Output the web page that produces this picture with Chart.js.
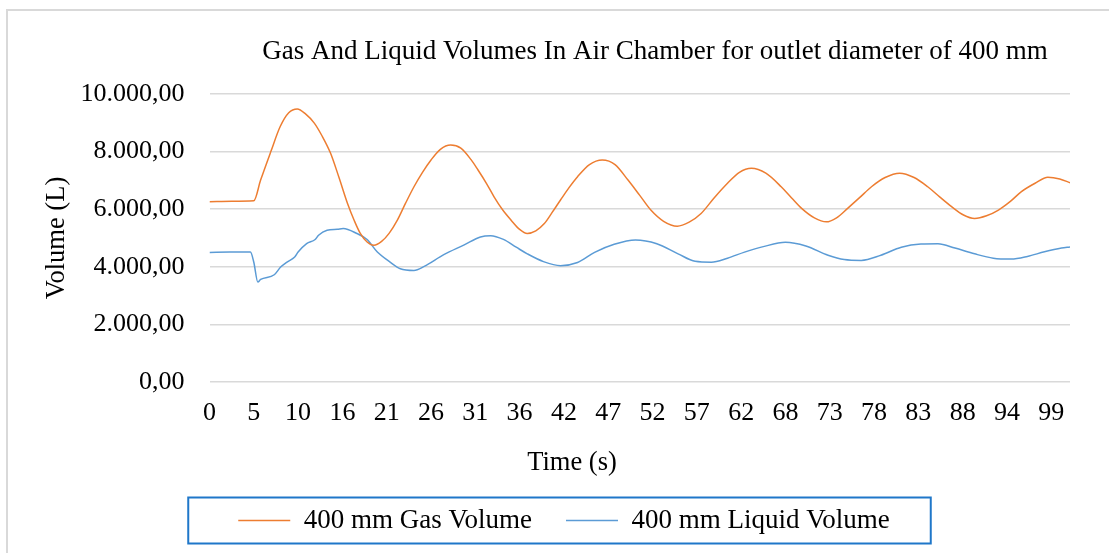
<!DOCTYPE html>
<html>
<head>
    <title>Gas And Liquid Volumes</title>
    <script src="https://cdn.jsdelivr.net/npm/chart.js"></script>
    <style>
        body {
            margin: 0;
            padding: 0;
            background: white;
        }
        .wrap {
            width: 1109px;
            height: 553px;
            position: relative;
        }
    </style>
</head>
<body>
    <div class="wrap">
        <canvas id="volumeChart"></canvas>
    </div>

    <script>
        const chartTitle = 'Gas And Liquid Volumes In Air Chamber for outlet diameter of 400 mm';
        const xTitle = 'Time (s)';
        const yTitle = 'Volume (L)';

        // x axis label positions (s) and the text shown under them
        const tickTimes = [0, 5.2, 10.4, 15.6, 20.8, 26, 31.2, 36.4, 41.6, 46.8, 52, 57.2, 62.4, 67.6, 72.8, 78, 83.2, 88.4, 93.6, 98.8];
        const tickLabels = ['0', '5', '10', '16', '21', '26', '31', '36', '42', '47', '52', '57', '62', '68', '73', '78', '83', '88', '94', '99'];

        // gas volume (L)
        const gasTime = [0, 2.6, 5.2, 6.0, 7.2, 8.3, 9.3, 10.3, 11.3, 12.3, 13.2, 14.2, 15.2, 16.2, 17.0, 17.7, 18.5, 19.3,
            20.2, 21.1, 22.05, 23.0, 24.0, 25.0, 26.0, 27.1, 28.3, 29.5, 30.7, 31.5, 32.5, 33.4, 34.4, 35.4, 36.4, 37.3,
            38.3, 39.3, 40.2, 41.2, 42.2, 43.2, 44.6, 46.1, 47.6, 49.1, 50.5, 51.8, 53.3, 54.9, 56.3, 57.7, 59.2, 60.8,
            62.2, 63.6, 65.3, 67.1, 68.3, 69.5, 71.0, 72.4, 73.6, 74.9, 76.3, 77.7, 79.3, 81.0, 82.7, 84.3, 85.7, 87.1,
            88.5, 89.8, 91.2, 92.6, 94.0, 95.3, 96.9, 98.4, 99.8, 101.0];
        const gasVolume = [6260, 6275, 6290, 7010, 8000, 8870, 9350, 9480, 9300, 8990, 8550, 7950, 7100, 6200, 5600, 5160, 4860, 4745,
            4880, 5170, 5620, 6200, 6780, 7280, 7710, 8080, 8230, 8120, 7720, 7370, 6900, 6430, 5980, 5620, 5300, 5160,
            5250, 5500, 5880, 6320, 6750, 7130, 7550, 7710, 7550, 7020, 6480, 5970, 5580, 5410, 5550, 5850, 6380, 6900,
            7280, 7420, 7250, 6780, 6400, 6030, 5700, 5560, 5700, 6030, 6400, 6780, 7100, 7250, 7100, 6780, 6430, 6090,
            5800, 5680, 5770, 5970, 6270, 6610, 6900, 7110, 7050, 6920];

        // liquid volume (L)
        const liquidTime = [0, 2.4, 4.8, 5.2, 5.67, 6.0, 7.6, 8.35, 9.1, 10.0, 10.4, 11.4, 12.4, 12.8, 13.8, 15.0, 15.7, 17.3,
            18.5, 19.7, 21.2, 22.4, 24.0, 25.2, 27.5, 29.9, 31.8, 33.0, 34.5, 36.0, 37.3, 39.2, 41.2, 43.2, 45.2, 47.5,
            50.0, 52.5, 55.0, 57.0, 58.9, 60.8, 62.8, 65.0, 67.6, 70.0, 72.6, 74.5, 76.5, 78.8, 81.2, 83.5, 85.5, 87.5,
            89.8, 92.0, 94.1, 96.0, 98.0, 100.0, 101.0];
        const liquidVolume = [4500, 4510, 4513, 4160, 3470, 3560, 3725, 3990, 4165, 4340, 4513, 4806, 4946, 5096, 5271, 5305, 5329, 5155,
            4946, 4513, 4164, 3933, 3874, 4014, 4420, 4760, 5037, 5080, 4950, 4680, 4450, 4180, 4040, 4150, 4500, 4780,
            4930, 4800, 4450, 4190, 4160, 4300, 4510, 4700, 4850, 4720, 4400, 4250, 4220, 4400, 4680, 4790, 4800, 4650,
            4450, 4300, 4270, 4360, 4520, 4650, 4690];

        const serif = '"Liberation Serif", "Times New Roman", serif';

        function formatVolume(v) {
            const parts = Math.round(v).toString().replace(/\B(?=(\d{3})+(?!\d))/g, '.');
            return parts + ',00';
        }

        function toPoints(times, values) {
            return times.map((t, i) => ({ x: t, y: values[i] }));
        }

        // outer frame, titles and the box round the legend
        const frameText = {
            id: 'frameText',
            beforeDraw(chart) {
                const ctx = chart.ctx;
                ctx.save();
                ctx.strokeStyle = '#d9d9d9';
                ctx.lineWidth = 2;
                ctx.beginPath();
                ctx.moveTo(7, chart.height);
                ctx.lineTo(7, 10);
                ctx.lineTo(chart.width, 10);
                ctx.stroke();
                ctx.restore();
            },
            afterDraw(chart) {
                const { ctx, chartArea } = chart;
                ctx.save();
                ctx.fillStyle = '#000';
                ctx.textAlign = 'center';
                ctx.textBaseline = 'middle';
                ctx.font = '27px ' + serif;
                ctx.fillText(chartTitle, 655, 52);
                ctx.font = '26.5px ' + serif;
                ctx.fillText(xTitle, 572, 463);
                ctx.translate(57, (chartArea.top + chartArea.bottom) / 2);
                ctx.rotate(-Math.PI / 2);
                ctx.fillText(yTitle, 0, 0);
                ctx.restore();

                const boxes = chart.legend.legendHitBoxes;
                if (boxes && boxes.length) {
                    const first = boxes[0];
                    const last = boxes[boxes.length - 1];
                    const cy = first.top + first.height / 2;
                    ctx.save();
                    ctx.strokeStyle = '#1f77c9';
                    ctx.lineWidth = 2;
                    ctx.strokeRect(first.left - 50, cy - 23, last.left + last.width + 41 - (first.left - 50), 46);
                    ctx.restore();
                }
            }
        };

        const ctx = document.getElementById('volumeChart').getContext('2d');
        new Chart(ctx, {
            type: 'line',
            data: {
                datasets: [{
                    label: '400 mm Gas Volume',
                    data: toPoints(gasTime, gasVolume),
                    borderColor: '#ED7D31',
                    backgroundColor: '#ED7D31',
                    borderWidth: 1.5,
                    pointRadius: 0,
                    cubicInterpolationMode: 'monotone',
                    fill: false
                }, {
                    label: '400 mm Liquid Volume',
                    data: toPoints(liquidTime, liquidVolume),
                    borderColor: '#5B9BD5',
                    backgroundColor: '#5B9BD5',
                    borderWidth: 1.5,
                    pointRadius: 0,
                    cubicInterpolationMode: 'monotone',
                    fill: false
                }]
            },
            options: {
                responsive: true,
                maintainAspectRatio: false,
                animation: false,
                layout: {
                    padding: { top: 94, left: 58, right: 39, bottom: 9 }
                },
                scales: {
                    x: {
                        type: 'linear',
                        min: 0,
                        max: 101,
                        grid: { display: false },
                        border: { display: false },
                        afterBuildTicks(scale) {
                            scale.ticks = tickTimes.map(v => ({ value: v }));
                        },
                        afterFit(scale) {
                            scale.height = 91;
                        },
                        ticks: {
                            autoSkip: false,
                            maxRotation: 0,
                            padding: 8,
                            color: '#000',
                            font: { family: serif, size: 26 },
                            callback: (value, index) => tickLabels[index]
                        }
                    },
                    y: {
                        min: 0,
                        max: 10000,
                        grid: {
                            color: '#d9d9d9',
                            lineWidth: 1.5,
                            drawTicks: false
                        },
                        border: { display: false },
                        afterFit(scale) {
                            scale.width = 151.5;
                        },
                        ticks: {
                            stepSize: 2000,
                            padding: 25,
                            color: '#000',
                            font: { family: serif, size: 26 },
                            callback: v => formatVolume(v)
                        }
                    }
                },
                plugins: {
                    title: { display: false },
                    tooltip: { enabled: false },
                    legend: {
                        position: 'bottom',
                        maxHeight: 81,
                        labels: {
                            color: '#000',
                            font: { family: serif, size: 27 },
                            usePointStyle: true,
                            pointStyle: 'line',
                            pointStyleWidth: 52,
                            padding: 34
                        }
                    }
                }
            },
            plugins: [frameText]
        });
    </script>
</body>
</html>
